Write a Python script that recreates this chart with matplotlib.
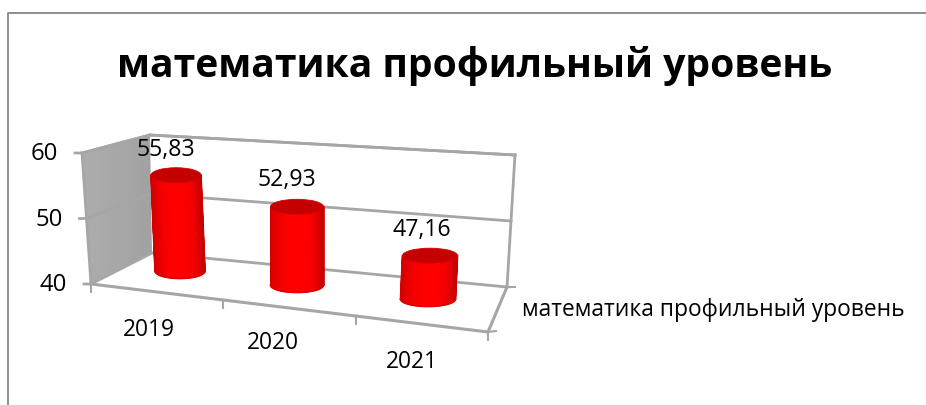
import numpy as np
import matplotlib
matplotlib.use('Agg')
from matplotlib import pyplot as plt
from matplotlib.colors import LinearSegmentedColormap
from matplotlib.patches import Ellipse, Polygon

title = 'математика профильный уровень'
years = ['2019', '2020', '2021']
values = [55.83, 52.93, 47.16]
value_labels = ['55,83', '52,93', '47,16']
y_ticks = [40, 50, 60]

plt.rcParams['font.family'] = ['Open Sans', 'DejaVu Sans']

# whole figure in pixel coordinates, the 3d look is faked with a projection
fig = plt.figure(figsize=(9.26, 4.05), dpi=100)
ax = fig.add_axes([0, 0, 1, 1])
ax.axis('off')

GRID = '#a6a6a6'
FRAME = '#868686'
Y_MIN, Y_MAX = 40, 60


def lerp(a, b, t):
    return a + (b - a) * t


def frac(v):
    return (v - Y_MIN) / (Y_MAX - Y_MIN)


# outer frame
ax.plot([7.5, 7.5, 926], [405, 12.5, 12.5], color=FRAME, lw=1.3)

# side wall and back wall
side_top, side_bot = (82, 153), (91, 284)
back_tl, back_bl = (150, 135), (152, 253)
back_tr, back_br = (515, 155), (507, 287)
front_r = (488, 332)

grey = LinearSegmentedColormap.from_list('wall', ['#adadad', '#a2a2a2'])
wall = Polygon([side_top, back_tl, back_bl, side_bot], closed=True, fc='none', ec='none')
ax.add_patch(wall)
im = ax.imshow(np.linspace(0, 1, 64).reshape(1, -1), cmap=grey, extent=(82, 152, 284, 135), aspect='auto', zorder=1)
im.set_clip_path(wall)

for a, b in [(side_top, back_tl), (back_tl, back_tr), (back_tr, back_br), (side_top, side_bot)]:
    ax.plot([a[0], b[0]], [a[1], b[1]], color=GRID, lw=2, zorder=2)

# gridlines and value axis
for v in y_ticks:
    t = frac(v)
    sx, sy = lerp(side_bot[0], side_top[0], t), lerp(side_bot[1], side_top[1], t)
    bx, by = lerp(back_bl[0], back_tl[0], t), lerp(back_bl[1], back_tl[1], t)
    rx, ry = lerp(back_br[0], back_tr[0], t), lerp(back_br[1], back_tr[1], t)
    ax.plot([sx - 7, sx, bx, rx], [sy, sy, by, ry], color=GRID, lw=2, zorder=2)
    ax.text(sx - 24, sy + 1, str(v), ha='right', va='center', fontsize=17.2, color='black', zorder=6)

# floor edges and category ticks
ax.plot([side_bot[0], front_r[0], back_br[0]], [side_bot[1], front_r[1], back_br[1]], color=GRID, lw=2.2, zorder=2)
ax.plot([back_br[0], back_br[0] + 8], [back_br[1], back_br[1]], color=GRID, lw=1.5, zorder=2)
ax.plot([front_r[0], front_r[0] + 8], [front_r[1], front_r[1] - 1], color=GRID, lw=1.5, zorder=2)
for i in range(len(years) + 1):
    t = i / len(years)
    x = lerp(side_bot[0], front_r[0], t)
    y = lerp(side_bot[1], front_r[1], t)
    ax.plot([x, x], [y, y + 8], color=GRID, lw=1.5, zorder=2)

# cylinders, a two row gouraud mesh so they can lean a little
LEFT_RED, RIGHT_RED = '#d40000', '#c80000'
red = LinearSegmentedColormap.from_list('cyl', [LEFT_RED, '#f40000', '#ff0000', '#ff0000', '#f60000', RIGHT_RED])
PX_PER_UNIT = 6.05
base_x = [180, 297, 428]
top_x = [176, 297, 430]
base_y = [271, 285, 299]
widths = [50, 53, 55]
label_pos = [(166, 150), (287, 180), (422, 230)]
year_pos = [(149, 330), (273, 343), (412, 362)]

for i, v in enumerate(values):
    w = widths[i]
    h = 15
    base = base_y[i]
    top = base - (v - Y_MIN) * PX_PER_UNIT
    e = np.cos(np.linspace(np.pi, 0, 61))
    X = np.vstack([top_x[i] + e * w / 2, base_x[i] + e * w / 2])
    Y = np.vstack([np.full_like(e, top), base + h / 2 * np.sqrt(np.clip(1 - e ** 2, 0, 1))])
    C = np.vstack([(e + 1) / 2, (e + 1) / 2])
    ax.pcolormesh(X, Y, C, shading='gouraud', cmap=red, vmin=0, vmax=1, zorder=3)
    # the mesh has no antialiasing, so trace its outline
    ax.plot(X[:, 0], Y[:, 0], color=LEFT_RED, lw=1.2, zorder=3.5)
    ax.plot(X[:, -1], Y[:, -1], color=RIGHT_RED, lw=1.2, zorder=3.5)
    ax.plot(X[1], Y[1], color='#e00000', lw=1.2, zorder=3.5)
    ax.add_patch(Ellipse((top_x[i], top), w, h, fc='#c40000', ec='#d60000', lw=0.6, zorder=4))
    ax.text(label_pos[i][0], label_pos[i][1], value_labels[i], ha='center', va='center', fontsize=16.7,
            color='black', zorder=6)
    ax.text(year_pos[i][0], year_pos[i][1], years[i], ha='center', va='center', fontsize=16.4,
            color='black', zorder=6)

ax.set_xlim(0, 926)
ax.set_ylim(405, 0)

ax.text(475, 66, title, ha='center', va='center', fontsize=28.2, fontweight='bold', color='black')
ax.text(713, 310, title, ha='center', va='center', fontsize=16.4, color='black')

fig.savefig('out.png', dpi=100)
